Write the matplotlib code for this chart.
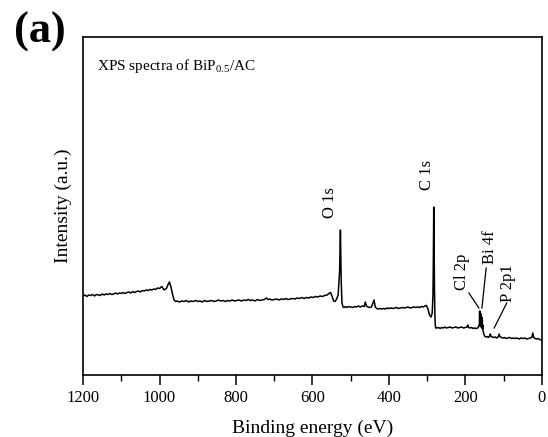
import numpy as np
import matplotlib.pyplot as plt
from matplotlib.ticker import MultipleLocator

# XPS survey spectrum of BiP0.5/AC (a.u.)
energy = [1200, 1195, 1190, 1185, 1180, 1175, 1170, 1165, 1160, 1155,
          1150, 1145, 1140, 1135, 1130, 1125, 1120, 1115, 1110, 1105,
          1100, 1095, 1090, 1085, 1080, 1075, 1070, 1065, 1060, 1055,
          1050, 1045, 1040, 1035, 1030, 1025, 1020, 1015, 1010, 1005,
          1000, 994, 988, 982, 977, 974, 970, 966, 962, 958,
          954, 948, 942, 936, 930, 924, 918, 912, 906, 900,
          894, 888, 882, 876, 870, 864, 858, 852, 846, 840,
          834, 828, 822, 816, 810, 804, 798, 792, 786, 780,
          774, 768, 762, 756, 750, 744, 738, 732, 726, 720,
          716, 712, 706, 700, 694, 688, 682, 676, 670, 664,
          658, 652, 646, 640, 634, 628, 622, 616, 610, 604,
          598, 592, 586, 580, 574, 568, 562, 557, 553, 549,
          545, 541, 537, 533, 529, 527, 526, 525, 523, 520,
          517, 514, 510, 505, 500, 495, 490, 485, 480, 475,
          470, 465, 462, 459, 455, 450, 446, 442, 439, 436,
          432, 428, 424, 420, 415, 410, 405, 400, 395, 390,
          385, 380, 375, 370, 365, 360, 355, 350, 345, 340,
          335, 330, 325, 320, 315, 310, 306, 302, 298, 294,
          290, 287, 285, 284, 283, 282, 281, 280, 279, 278,
          277, 274, 270, 266, 262, 258, 254, 250, 245, 240,
          235, 230, 225, 220, 215, 210, 205, 200, 196, 194,
          192, 188, 184, 180, 176, 172, 168, 165, 163.5, 163,
          162.5, 162, 161.5, 161, 160.5, 160, 159.5, 159, 158.5, 158,
          157.5, 157, 156.5, 156, 155.5, 155, 154, 152, 150, 147,
          144, 140, 137, 135, 133, 130, 126, 122, 118, 114,
          112, 110, 106, 102, 98, 94, 90, 85, 80, 75,
          70, 65, 60, 55, 50, 45, 40, 35, 30, 26,
          24, 22, 18, 14, 10, 6, 2, 0]
intensity = [79.0, 80.0, 78.5, 80.0, 79.5, 80.5, 79.0, 80.5, 80.0, 79.5,
             81.0, 80.0, 81.0, 80.5, 81.5, 80.5, 81.0, 82.0, 81.0, 82.0,
             81.5, 82.5, 81.5, 82.5, 83.0, 82.0, 83.5, 82.5, 83.5, 84.0,
             83.0, 84.5, 84.0, 85.0, 84.5, 85.5, 85.0, 86.0, 85.5, 87.0,
             86.5, 88.5, 85.0, 86.5, 91.0, 93.0, 88.0, 81.0, 75.0, 73.5,
             74.0, 73.0, 74.0, 73.5, 74.5, 73.0, 74.0, 73.5, 74.5, 73.5,
             74.0, 73.0, 74.5, 73.5, 74.0, 74.5, 73.5, 74.0, 75.0, 74.0,
             74.5, 73.5, 74.5, 74.0, 75.0, 74.0, 74.5, 75.0, 74.0, 75.0,
             74.5, 75.5, 74.5, 75.0, 74.0, 75.5, 74.5, 75.0, 75.5, 77.0,
             75.5, 76.0, 75.0, 75.5, 76.0, 75.0, 76.0, 75.5, 76.5, 75.5,
             76.0, 76.5, 76.0, 77.0, 76.5, 77.5, 76.5, 77.5, 77.0, 78.0,
             77.5, 78.5, 78.0, 79.0, 78.5, 79.5, 80.0, 81.5, 82.5, 79.0,
             74.0, 73.5, 76.0, 80.0, 105.0, 145.0, 120.0, 95.0, 72.0, 68.0,
             67.5, 68.5, 67.5, 68.5, 68.0, 67.5, 68.5, 68.0, 69.0, 68.0,
             69.0, 68.5, 73.0, 69.0, 68.0, 67.5, 68.0, 72.0, 75.0, 68.0,
             66.5, 66.0, 66.5, 66.0, 66.5, 66.0, 67.0, 66.5, 67.0, 66.5,
             67.0, 67.5, 66.5, 67.0, 67.5, 67.0, 67.5, 68.0, 67.0, 67.5,
             68.0, 67.5, 68.0, 67.5, 68.5, 68.0, 69.0, 69.5, 66.0, 60.0,
             58.0, 62.0, 80.0, 115.0, 168.0, 125.0, 85.0, 60.0, 50.0, 47.0,
             47.5, 47.0, 47.5, 46.5, 47.5, 47.0, 48.0, 47.0, 47.5, 48.0,
             47.0, 47.5, 48.0, 47.0, 47.5, 48.0, 47.0, 47.5, 48.0, 50.0,
             47.5, 47.0, 47.5, 46.5, 47.0, 46.5, 47.0, 49.0, 52.0, 64.0,
             50.0, 63.0, 49.0, 62.0, 50.0, 61.0, 48.0, 60.0, 49.0, 58.0,
             48.0, 57.0, 47.0, 55.0, 46.0, 50.0, 44.0, 41.0, 39.0, 38.0,
             38.5, 37.5, 39.0, 41.0, 38.5, 38.0, 37.5, 38.0, 37.0, 38.5,
             41.0, 38.5, 37.5, 37.0, 37.5, 36.5, 37.0, 37.5, 36.5, 37.0,
             36.5, 37.0, 36.0, 37.0, 36.5, 37.0, 36.0, 36.5, 37.0, 38.0,
             42.0, 38.0, 36.5, 36.0, 36.5, 35.5, 35.0, 34.5]

peak_labels = ['O 1s', 'C 1s', 'Cl 2p', 'Bi 4f', 'P 2p1']
label_x = [554, 301, 209, 136, 89]
label_y = [172, 200, 103, 128, 92]

plt.rcParams['font.family'] = ['Liberation Serif', 'DejaVu Serif']
plt.rcParams['mathtext.fontset'] = 'stix'

fig = plt.figure(figsize=(5.48, 4.37), dpi=100)
ax = fig.add_axes([0.1515, 0.1419, 0.8375, 0.7734])

ax.plot(energy, intensity, color='black', linewidth=1.1)

ax.set_xlim(1200, 0)
ax.set_ylim(0, 338)
ax.xaxis.set_major_locator(MultipleLocator(200))
ax.xaxis.set_minor_locator(MultipleLocator(100))
ax.tick_params(axis='x', which='major', direction='out', length=7, width=1.1,
               labelsize=12, pad=4)
ax.tick_params(axis='x', which='minor', direction='out', length=4, width=1.0)
ax.set_yticks([])
for sp in ax.spines.values():
    sp.set_linewidth(1.2)

ax.set_xlabel('Binding energy (eV)', fontsize=14, labelpad=10)
ax.set_ylabel('Intensity (a.u.)', fontsize=14, labelpad=8)

# peak labels
for lab, x, y in zip(peak_labels, label_x, label_y):
    ax.text(x, y, lab, rotation=90, ha='center', va='center', fontsize=12)

# leader lines for the small peaks
ax.plot([191, 165], [82, 67], color='black', linewidth=0.9)
ax.plot([146, 157], [107, 67], color='black', linewidth=0.9)
ax.plot([92, 125], [72, 47], color='black', linewidth=0.9)

ax.text(0.03, 0.915, r'XPS spectra of BiP$_{\mathregular{0.5}}$/AC',
        transform=ax.transAxes, fontsize=11, ha='left', va='center')

fig.text(0.073, 0.927, '(a)', fontsize=32, fontweight='bold',
         ha='center', va='center')

plt.savefig('out.png', dpi=100)
